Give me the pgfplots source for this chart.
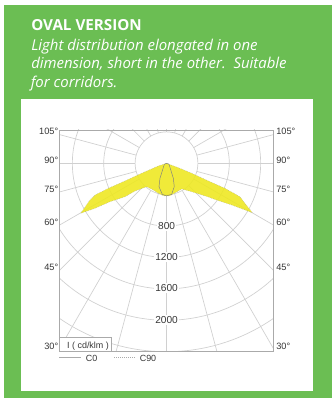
\documentclass[border=0pt]{standalone}
\usepackage{fontspec}
\setmainfont{Liberation Sans}
\newfontfamily\osans{Open Sans}
\usepackage{pgfplots}
\pgfplotsset{compat=1.18}
\definecolor{panel}{RGB}{107,190,83}
\definecolor{lum}{RGB}{238,232,30}
\definecolor{gridc}{RGB}{208,208,208}
\definecolor{boxc}{RGB}{170,170,170}
\definecolor{txt}{RGB}{55,55,55}
\begin{document}
\begin{tikzpicture}[x=0.75pt,y=-0.75pt]
\path[fill=white] (0,0) rectangle (334,398);
\path[fill=panel] (4,5) rectangle (332,398);
\path[fill=white] (21,99) rectangle (313,391);
\coordinate (A) at (59.3,351);
\begin{axis}[
  at={(A)}, anchor=south west,
  scale only axis, width=160.8pt, height=165.75pt,
  xmin=-1366, xmax=1366, ymin=-2391, ymax=424,
  ticks=none, axis line style={boxc,line width=0.6pt},
  axis on top,
]
% grid
\draw[gridc,line width=0.5pt] (axis cs:0,0) circle [radius=400];
\draw[gridc,line width=0.5pt] (axis cs:0,0) circle [radius=800];
\draw[gridc,line width=0.5pt] (axis cs:0,0) circle [radius=1200];
\draw[gridc,line width=0.5pt] (axis cs:0,0) circle [radius=1600];
\draw[gridc,line width=0.5pt] (axis cs:0,0) circle [radius=2000];
\draw[gridc,line width=0.5pt] (axis cs:0,0) circle [radius=2400];
\pgfplotsinvokeforeach{-90,-75,-60,-45,-30,-15,0,15,30,45,60,75,90,105,120,135,150,165,180,195,210,225,240,255}{
  \addplot[gridc,line width=0.5pt,data cs=polar] coordinates {(#1,400)(#1,3000)};
}
% luminous intensity outline (cd/klm)
\addplot[fill=lum, fill opacity=0.88, draw=black!40, line width=0.3pt, densely dotted] coordinates {
 (0,0)(150,-56)(321,-127)(533,-225)(745,-319)(936,-426)(1000,-510)(1093,-629)
 (831,-531)(618,-461)(533,-429)(321,-362)(194,-327)(45,-413)(0,-416)
 (-41,-413)(-104,-382)(-168,-340)(-252,-298)(-401,-353)(-529,-426)(-720,-489)(-911,-573)(-1093,-637)
 (-975,-468)(-911,-404)(-741,-319)(-529,-225)(-316,-127)(-104,-34)(0,0)};
\addplot[black!50, line width=0.35pt] coordinates {
 (0,0)(-28,-13)(-83,-191)(-96,-298)(-54,-395)(0,-416)(66,-395)(99,-298)(87,-191)(32,-13)(0,0)};
\end{axis}
% intensity labels
\foreach \v/\y in {800/226,1200/257,1600/288,2000/320}{
  \node[fill=white,inner sep=1pt,text=txt,font=\fontsize{7.6pt}{9pt}\selectfont] at (166.6,\y) {\v};
}
% angle labels
\foreach \a/\y in {105/131.5,90/160.5,75/189,60/222.5,45/267.5,30/346}{
  \node[anchor=east,inner sep=0pt,text=txt,font=\fontsize{6.9pt}{8pt}\selectfont] at (58.5,\y) {\a°};
  \node[anchor=west,inner sep=0pt,text=txt,font=\fontsize{6.9pt}{8pt}\selectfont] at (276,\y) {\a°};
}
% legend
\draw[boxc,fill=white,line width=0.5pt] (59.3,351) -- (59.3,337) -- (111,337) -- (111,351);
\node[inner sep=0pt,text=txt,font=\fontsize{6.7pt}{8pt}\selectfont] at (88,346) {I ( cd/klm )};
\draw[boxc,line width=0.6pt] (59.3,357.8) -- (81,357.8);
\draw[boxc,line width=0.5pt,densely dotted] (114,357.8) -- (135,357.8);
\node[inner sep=0pt,text=txt,font=\fontsize{6.7pt}{8pt}\selectfont] at (91.7,358.5) {C0};
\node[inner sep=0pt,text=txt,font=\fontsize{6.7pt}{8pt}\selectfont] at (148,358.5) {C90};
% heading
\node[anchor=base west,inner sep=0pt,text=white,font=\osans\bfseries\fontsize{11.4pt}{14pt}\selectfont] at (31,31) {OVAL VERSION};
\node[anchor=base west,inner sep=0pt,text=white,font=\osans\itshape\fontsize{11.2pt}{14pt}\selectfont] at (31,50.5) {Light distribution elongated in one};
\node[anchor=base west,inner sep=0pt,text=white,font=\osans\itshape\fontsize{11.2pt}{14pt}\selectfont] at (31,69) {dimension, short in the other.\ \ Suitable};
\node[anchor=base west,inner sep=0pt,text=white,font=\osans\itshape\fontsize{11.2pt}{14pt}\selectfont] at (30.5,88) {for corridors.};
\end{tikzpicture}
\end{document}
